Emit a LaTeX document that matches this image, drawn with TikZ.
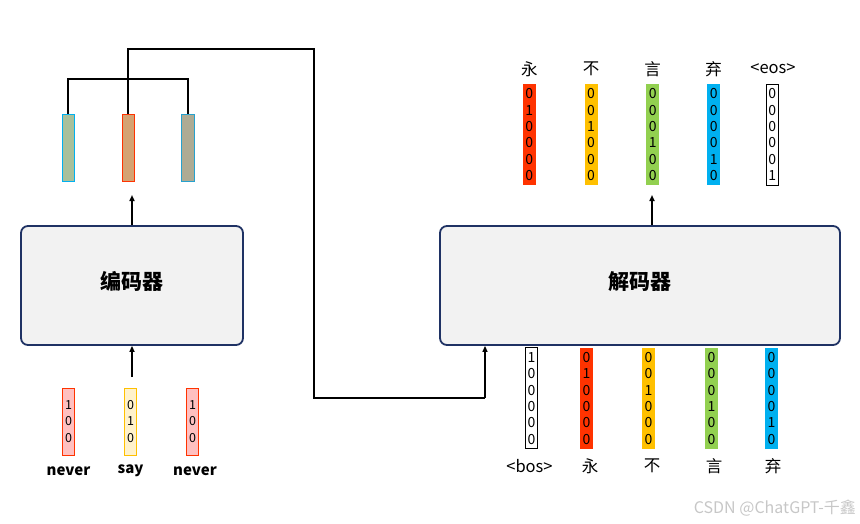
\documentclass[tikz,border=0pt]{standalone}
\usepackage{fontspec}
\setmainfont{Noto Sans CJK SC}
\usetikzlibrary{arrows.meta}
\definecolor{navy}{HTML}{1F3264}
\definecolor{boxfill}{HTML}{F2F2F2}
\definecolor{vred}{HTML}{FF3300}
\definecolor{vorange}{HTML}{FFC000}
\definecolor{vgreen}{HTML}{92D050}
\definecolor{vblue}{HTML}{00B0F0}
\definecolor{pinkfill}{HTML}{FFC0C0}
\definecolor{yelfill}{HTML}{FFF2CC}
\definecolor{h1fill}{HTML}{A9C09B}
\definecolor{h2fill}{HTML}{D4A373}
\definecolor{h3fill}{HTML}{AEAB94}
\begin{document}
\begin{tikzpicture}[x=1pt,y=-1pt,
  block/.style={draw=navy,line width=1.8pt,fill=boxfill,rounded corners=7pt,inner sep=0pt},
  btext/.style={inner sep=0pt,font=\fontsize{21}{24}\selectfont\bfseries},
  vec/.style={inner sep=0pt,minimum width=13pt,minimum height=100.7pt,align=center,
    font=\fontsize{14}{16.4}\selectfont},
  ivec/.style={inner sep=0pt,minimum width=12pt,minimum height=67pt,align=center,
    font=\fontsize{12.5}{16.5}\selectfont,line width=1pt},
  hvec/.style={inner sep=0pt,minimum width=12.5pt,minimum height=67pt,line width=1pt},
  lbl/.style={inner sep=0pt,font=\fontsize{16.5}{19}\selectfont},
  wlbl/.style={inner sep=0pt,font=\fontsize{15}{18}\selectfont\bfseries},
  conn/.style={line width=2.2pt},
  arr/.style={line width=1.5pt,-{Triangle[width=5pt,length=6pt]}}
]
\useasboundingbox (0,0) rectangle (860,523);

% blocks
\node[block,minimum width=222pt,minimum height=119pt] (enc) at (132,285.5) {};
\node[block,minimum width=400pt,minimum height=119pt] (dec) at (640,285.5) {};
\node[btext] (enct) at (132,281.5) {编码器};
\node[btext] (dect) at (640,281.5) {解码器};

% encoder inputs
\node[ivec,draw=vred,fill=pinkfill] (i1) at (68.5,421.5) {1\\0\\0};
\node[ivec,draw=vorange,fill=yelfill] (i2) at (130.5,421.5) {0\\1\\0};
\node[ivec,draw=vred,fill=pinkfill] (i3) at (192.7,421.5) {1\\0\\0};
\node[wlbl] (w1) at (68.5,471) {never};
\node[wlbl] (w2) at (130.5,471) {say};
\node[wlbl] (w3) at (195,471) {never};

% encoder hidden states
\node[hvec,draw=vblue,fill=h1fill] (h1) at (68.3,147.5) {};
\node[hvec,draw=vred,fill=h2fill] (h2) at (128.3,147.5) {};
\node[hvec,draw=vblue!70!gray,fill=h3fill] (h3) at (188,147.5) {};

% decoder outputs
\node[vec,fill=vred] (o1) at (529.3,134.7) {0\\1\\0\\0\\0\\0};
\node[vec,fill=vorange] (o2) at (591,134.7) {0\\0\\1\\0\\0\\0};
\node[vec,fill=vgreen] (o3) at (652.7,134.7) {0\\0\\0\\1\\0\\0};
\node[vec,fill=vblue] (o4) at (713.7,134.7) {0\\0\\0\\0\\1\\0};
\node[vec,draw=black,line width=1pt,minimum width=12pt] (o5) at (772.3,134.7) {0\\0\\0\\0\\0\\1};
\node[lbl] (ol1) at (529.3,69) {永};
\node[lbl] (ol2) at (591,69) {不};
\node[lbl] (ol3) at (652.7,69) {言};
\node[lbl] (ol4) at (713.7,69) {弃};
\node[lbl] (ol5) at (773,69) {<eos>};

% decoder inputs
\node[vec,draw=black,line width=1pt,minimum width=12pt] (d1) at (531.5,398.3) {1\\0\\0\\0\\0\\0};
\node[vec,fill=vred] (d2) at (586.5,398.3) {0\\1\\0\\0\\0\\0};
\node[vec,fill=vorange] (d3) at (648.5,398.3) {0\\0\\1\\0\\0\\0};
\node[vec,fill=vgreen] (d4) at (711.5,398.3) {0\\0\\0\\1\\0\\0};
\node[vec,fill=vblue] (d5) at (771.5,398.3) {0\\0\\0\\0\\1\\0};
\node[lbl] (dl1) at (529.5,466) {<bos>};
\node[lbl] (dl2) at (590,466) {永};
\node[lbl] (dl3) at (652,466) {不};
\node[lbl] (dl4) at (714,466) {言};
\node[lbl] (dl5) at (773,466) {弃};

% arrows
\coordinate (encin) at (132,377);
\coordinate (encout) at (132,195);
\coordinate (decout) at (652,195);
\draw[arr] (encin) -- (encin |- enc.south);
\draw[arr] (encout |- enc.north) -- (encout);
\draw[arr] (decout |- dec.north) -- (decout);

% bracket and context connection
\coordinate (br) at (0,79);
\coordinate (ctx1) at (314,49);
\coordinate (ctx2) at (485,398);
\draw[conn] (h1.north) -- (h1.north |- br) -| (h3.north);
\draw[conn] (h2.north) -- (h2.north |- ctx1) -- (ctx1) -- (ctx1 |- ctx2) -- (ctx2);
\draw[arr,line width=1.3pt] (ctx2) -- (ctx2 |- dec.south);

% watermark
\node[inner sep=0pt,text=black!22,font=\fontsize{16}{19}\selectfont,anchor=east] (wm) at (856,508) {CSDN @ChatGPT-千鑫};
\end{tikzpicture}
\end{document}
